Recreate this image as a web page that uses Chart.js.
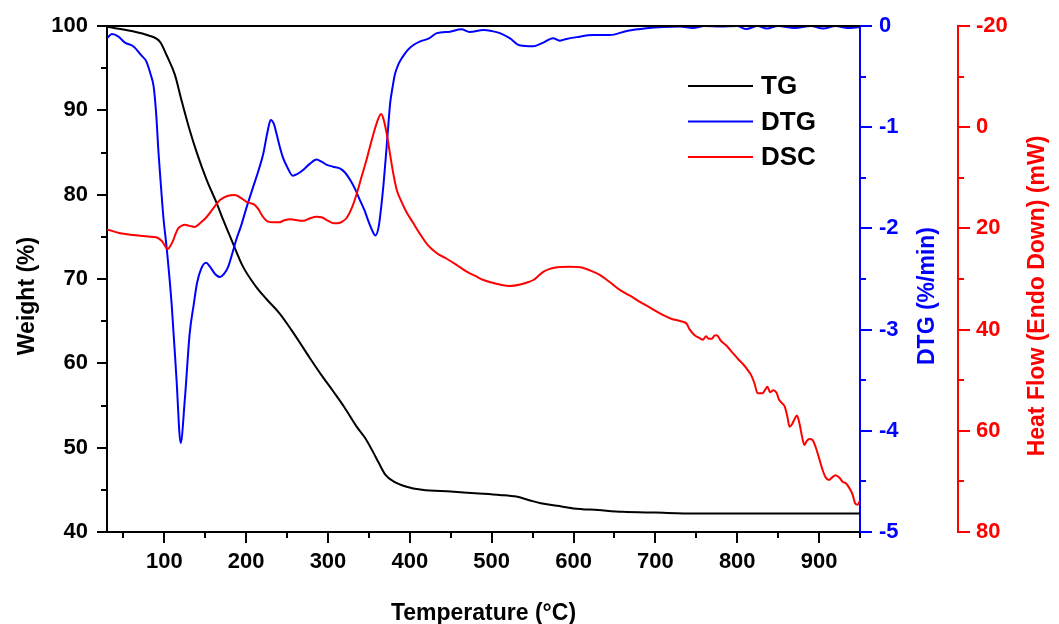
<!DOCTYPE html>
<html>
<head>
<meta charset="utf-8">
<title>TG / DTG / DSC</title>
<script src="https://cdn.jsdelivr.net/npm/chart.js@4.4.1/dist/chart.umd.min.js"></script>
<style>
  html, body { margin: 0; padding: 0; background: #fff; }
  canvas { display: block; }
</style>
</head>
<body>
<canvas id="myChart" width="1059" height="624"></canvas>
<script>
// TG (Weight %)
const tgTemp = [30, 60, 80, 95, 103, 113, 121, 130, 140, 152, 164, 172, 184, 196, 212, 225, 241, 255, 266, 278, 292, 307, 320, 335, 345, 355, 362, 370, 380, 395, 415, 450, 480, 510, 530, 545, 560, 580, 600, 630, 660, 700, 750, 800, 850, 900, 950];
const tgWeight = [99.9, 99.4, 98.9, 98.1, 96.5, 94.2, 91.2, 88.0, 84.9, 81.7, 79.0, 77.0, 74.2, 71.5, 69.1, 67.6, 65.9, 64.0, 62.4, 60.6, 58.6, 56.6, 54.8, 52.5, 51.2, 49.5, 48.2, 46.8, 46.0, 45.4, 45.0, 44.8, 44.6, 44.4, 44.2, 43.8, 43.4, 43.1, 42.8, 42.6, 42.4, 42.3, 42.2, 42.2, 42.2, 42.2, 42.2];

// DTG (%/min)
const dtgTemp = [30, 36, 44, 52, 62, 72, 78, 83, 87, 90, 93, 96, 99, 103, 109, 115, 120, 125, 131, 136, 140, 145, 151, 156, 162, 168, 173, 178, 183, 188, 194, 201, 209, 215, 221, 226, 230, 234, 237, 241, 245, 250, 257, 263, 270, 278, 286, 292, 298, 306, 315, 321, 327, 333, 339, 345, 349, 354, 358, 362, 365, 368, 371, 374, 376, 379, 382, 386, 390, 397, 404, 412, 424, 433, 449, 463, 473, 490, 500, 510, 522, 534, 551, 563, 575, 583, 590, 604, 624, 644, 665, 689, 710, 730, 746, 760, 780, 800, 811, 825, 836, 850, 870, 890, 905, 920, 935, 950];
const dtgRate = [-0.12, -0.08, -0.105, -0.165, -0.2, -0.29, -0.35, -0.47, -0.6, -0.86, -1.26, -1.59, -1.9, -2.2, -2.75, -3.5, -4.12, -3.7, -3.04, -2.75, -2.54, -2.4, -2.34, -2.38, -2.45, -2.48, -2.45, -2.38, -2.25, -2.11, -1.97, -1.78, -1.58, -1.43, -1.26, -1.05, -0.93, -0.97, -1.06, -1.19, -1.3, -1.39, -1.48, -1.46, -1.42, -1.36, -1.32, -1.34, -1.37, -1.39, -1.41, -1.45, -1.52, -1.61, -1.72, -1.83, -1.92, -2.02, -2.07, -1.98, -1.79, -1.55, -1.26, -0.95, -0.76, -0.6, -0.47, -0.38, -0.32, -0.24, -0.19, -0.155, -0.12, -0.07, -0.056, -0.033, -0.06, -0.04, -0.05, -0.07, -0.12, -0.19, -0.2, -0.165, -0.12, -0.145, -0.13, -0.11, -0.09, -0.09, -0.05, -0.023, -0.01, -0.005, -0.02, 0, -0.005, 0, -0.03, 0, -0.025, 0, -0.02, 0, -0.025, 0, -0.02, -0.01];

// DSC (mW, endo down)
const dscTemp = [30, 45, 62, 80, 91, 97, 100, 104, 108, 111, 114, 117, 121, 125, 131, 137, 145, 152, 160, 168, 177, 186, 193, 200, 205, 210, 215, 220, 226, 233, 240, 247, 254, 262, 270, 278, 286, 292, 298, 305, 311, 317, 323, 329, 335, 341, 347, 352, 357, 361, 365, 368, 372, 375, 378, 381, 384, 390, 396, 404, 412, 422, 433, 445, 457, 469, 480, 490, 500, 510, 522, 535, 545, 551, 557, 563, 571, 580, 595, 608, 620, 632, 645, 657, 669, 681, 695, 709, 720, 730, 738, 742, 748, 753, 758, 762, 765, 769, 772, 775, 780, 787, 795, 801, 807, 812, 817, 821, 825, 831, 834, 837, 840, 844, 848, 851, 855, 858, 861, 864, 867, 870, 873, 876, 879, 882, 885, 888, 892, 896, 900, 904, 908, 912, 916, 920, 925, 929, 933, 938, 941, 944, 947, 950];
const dscHeat = [20.2, 20.9, 21.3, 21.6, 21.8, 22.5, 23.2, 24.1, 23.3, 22.3, 21.0, 20.0, 19.5, 19.3, 19.5, 19.7, 18.8, 17.7, 16.0, 14.4, 13.6, 13.4, 13.9, 14.7, 15.0, 15.3, 16.2, 17.6, 18.6, 18.8, 18.8, 18.4, 18.2, 18.4, 18.5, 18.0, 17.7, 17.8, 18.3, 18.9, 19.0, 18.7, 17.9, 16.0, 13.2, 9.8, 6.5, 3.4, 0.5, -1.5, -2.6, -1.5, 1.5, 4.5, 7.5, 10.2, 12.4, 14.8, 16.8, 18.9, 21.0, 23.3, 24.9, 26.0, 27.2, 28.5, 29.4, 30.2, 30.7, 31.1, 31.4, 31.1, 30.6, 30.2, 29.4, 28.6, 28.0, 27.7, 27.6, 27.7, 28.3, 29.2, 30.7, 32.2, 33.3, 34.5, 35.8, 37.1, 37.9, 38.3, 38.8, 40.0, 41.1, 41.6, 42.0, 41.3, 41.8, 41.8, 41.2, 41.1, 42.2, 43.2, 44.7, 45.8, 46.8, 47.8, 49.0, 50.6, 52.6, 52.6, 51.9, 51.3, 52.4, 52.0, 52.5, 53.8, 54.6, 55.2, 57.0, 59.2, 58.7, 57.7, 57.0, 58.5, 61.0, 62.8, 62.0, 61.6, 61.8, 63.3, 65.4, 67.6, 69.2, 69.7, 69.2, 68.8, 69.3, 70.1, 70.4, 71.6, 72.6, 74.3, 74.6, 73.8];

const toPoints = (xs, ys) => xs.map((x, i) => ({ x: x, y: ys[i] }));

Chart.defaults.font.family = "'Liberation Sans', Arial, sans-serif";
Chart.defaults.font.weight = 'bold';

// ancho fijo de cada eje y sin relleno extra arriba/abajo
const fixWidth = (w) => (scale) => {
    scale.width = w;
    scale.paddingTop = 0;
    scale.paddingBottom = 0;
};

// marcas de eje (mayores y menores), marco superior, leyenda y titulos verticales
const decoPlugin = {
    id: 'deco',
    afterDraw(chart) {
        const ctx = chart.ctx;
        const a = chart.chartArea;
        const s = chart.scales;
        ctx.save();
        ctx.lineWidth = 2;
        ctx.lineCap = 'butt';

        ctx.strokeStyle = '#000';
        ctx.beginPath();
        ctx.moveTo(a.left - 1, a.top);
        ctx.lineTo(a.right, a.top);
        ctx.stroke();

        function mark(x1, y1, x2, y2) {
            ctx.beginPath();
            ctx.moveTo(x1, y1);
            ctx.lineTo(x2, y2);
            ctx.stroke();
        }

        // eje X
        ctx.strokeStyle = '#000';
        for (let v = 50; v <= 950; v += 50) {
            const px = Math.round(s.x.getPixelForValue(v));
            mark(px, a.bottom, px, a.bottom + (v % 100 === 0 ? 11 : 6));
        }
        // eje Weight
        for (let v = 40; v <= 100; v += 5) {
            const py = Math.round(s.yTG.getPixelForValue(v));
            mark(a.left, py, a.left - (v % 10 === 0 ? 10 : 6), py);
        }
        // eje DTG
        ctx.strokeStyle = '#0000ff';
        for (let k = 0; k <= 10; k++) {
            const v = -5 + k * 0.5;
            const py = Math.round(s.yDTG.getPixelForValue(v));
            const x0 = s.yDTG.left;
            mark(x0, py, x0 + (k % 2 === 0 ? 12 : 6), py);
        }
        // eje DSC
        ctx.strokeStyle = '#ff0000';
        for (let v = -20; v <= 80; v += 10) {
            const py = Math.round(s.yDSC.getPixelForValue(v));
            const x0 = s.yDSC.left;
            mark(x0, py, x0 + (v % 20 === 0 ? 12 : 6), py);
        }

        // leyenda
        ctx.font = "bold 26px 'Liberation Sans', Arial, sans-serif";
        ctx.textAlign = 'left';
        ctx.textBaseline = 'middle';
        chart.data.datasets.forEach((ds, i) => {
            const y = 86 + i * 35.5;
            ctx.strokeStyle = ds.borderColor;
            mark(688, y, 753, y);
            ctx.fillStyle = '#000';
            ctx.fillText(ds.label, 761, y + 1);
        });

        // titulos verticales (leidos de abajo hacia arriba)
        const cy = (a.top + a.bottom) / 2 + 17;
        const titles = [
            { text: 'Weight (%)', x: s.yTG.left + 34, color: '#000' },
            { text: 'DTG (%/min)', x: s.yDTG.left + 74, color: '#0000ff' },
            { text: 'Heat Flow (Endo Down) (mW)', x: s.yDSC.left + 86, color: '#ff0000' }
        ];
        ctx.font = "bold 23px 'Liberation Sans', Arial, sans-serif";
        ctx.textAlign = 'center';
        ctx.textBaseline = 'alphabetic';
        titles.forEach(t => {
            ctx.save();
            ctx.translate(t.x, cy);
            ctx.rotate(-Math.PI / 2);
            ctx.fillStyle = t.color;
            ctx.fillText(t.text, 0, 0);
            ctx.restore();
        });
        ctx.restore();
    }
};

document.addEventListener('DOMContentLoaded', () => {
    const ctx = document.getElementById('myChart').getContext('2d');
    const myChart = new Chart(ctx, {
        type: 'line',
        data: {
            datasets: [
                {
                    label: 'TG',
                    data: toPoints(tgTemp, tgWeight),
                    yAxisID: 'yTG',
                    borderColor: '#000000',
                    order: 3
                },
                {
                    label: 'DTG',
                    data: toPoints(dtgTemp, dtgRate),
                    yAxisID: 'yDTG',
                    borderColor: '#0000ff',
                    order: 2
                },
                {
                    label: 'DSC',
                    data: toPoints(dscTemp, dscHeat),
                    yAxisID: 'yDSC',
                    borderColor: '#ff0000',
                    order: 1
                }
            ]
        },
        options: {
            responsive: false,
            animation: false,
            devicePixelRatio: 1,
            layout: { padding: { top: 26, left: 0, right: 0, bottom: 0 } },
            elements: {
                point: { radius: 0 },
                line: { borderWidth: 2, cubicInterpolationMode: 'monotone', fill: false }
            },
            plugins: {
                legend: { display: false },
                tooltip: { enabled: false }
            },
            scales: {
                x: {
                    type: 'linear',
                    position: 'bottom',
                    min: 30,
                    max: 950,
                    afterFit: (scale) => { scale.height = 92; scale.paddingLeft = 0; scale.paddingRight = 0; },
                    grid: { display: false, drawTicks: false },
                    border: { display: true, color: '#000', width: 2 },
                    ticks: {
                        stepSize: 100,
                        includeBounds: false,
                        autoSkip: false,
                        maxRotation: 0,
                        padding: 17,
                        color: '#000',
                        font: { size: 22, weight: 'bold' }
                    },
                    title: {
                        display: true,
                        text: 'Temperature (°C)',
                        color: '#000',
                        font: { size: 23, weight: 'bold' },
                        padding: { top: 0, bottom: -3 }
                    }
                },
                yTG: {
                    type: 'linear',
                    position: 'left',
                    min: 40,
                    max: 100,
                    afterFit: fixWidth(107),
                    grid: { display: false, drawTicks: false },
                    border: { display: true, color: '#000', width: 2 },
                    ticks: {
                        stepSize: 10,
                        padding: 19,
                        color: '#000',
                        font: { size: 22, weight: 'bold' }
                    }
                },
                yDTG: {
                    type: 'linear',
                    position: 'right',
                    min: -5,
                    max: 0,
                    afterFit: fixWidth(98),
                    grid: { display: false, drawTicks: false },
                    border: { display: true, color: '#0000ff', width: 2 },
                    ticks: {
                        stepSize: 1,
                        padding: 19,
                        color: '#0000ff',
                        font: { size: 22, weight: 'bold' }
                    }
                },
                yDSC: {
                    type: 'linear',
                    position: 'right',
                    min: -20,
                    max: 80,
                    reverse: true,
                    afterFit: fixWidth(101),
                    grid: { display: false, drawTicks: false },
                    border: { display: true, color: '#ff0000', width: 2 },
                    ticks: {
                        stepSize: 20,
                        padding: 18,
                        color: '#ff0000',
                        font: { size: 22, weight: 'bold' }
                    }
                }
            }
        },
        plugins: [decoPlugin]
    });
});
</script>
</body>
</html>
